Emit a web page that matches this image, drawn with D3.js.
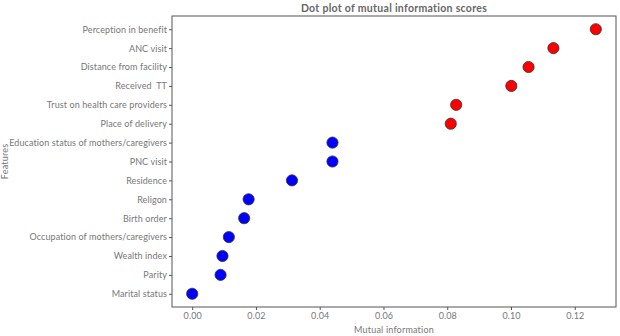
<!DOCTYPE html>
<html>
<head>
<meta charset="utf-8">
<script src="https://cdn.jsdelivr.net/npm/d3@7"></script>
<style>
  body { margin: 0; background: #fff; }
  text { font-family: Lato, sans-serif; white-space: pre; }
</style>
</head>
<body>
<svg id="chart" width="620" height="336"></svg>
<script>
var features = ["Perception in benefit", "ANC visit", "Distance from facility", "Received  TT",
  "Trust on health care providers", "Place of delivery", "Education status of mothers/caregivers",
  "PNC visit", "Residence", "Religon", "Birth order", "Occupation of mothers/caregivers",
  "Wealth index", "Parity", "Marital status"];
var scores = [0.1266, 0.1133, 0.1055, 0.1001, 0.0828, 0.0811, 0.0440, 0.0440, 0.0313,
  0.0177, 0.0163, 0.0115, 0.0095, 0.0089, 0.0000];
var groups = ["high", "high", "high", "high", "high", "high", "low", "low", "low",
  "low", "low", "low", "low", "low", "low"];
var xTicks = [0, 0.02, 0.04, 0.06, 0.08, 0.10, 0.12];

var data = features.map(function(f, i) { return {name: f, value: scores[i], group: groups[i]}; });

var margin = {top: 16, right: 4, bottom: 29, left: 172};
var width = 620 - margin.left - margin.right;
var height = 336 - margin.top - margin.bottom;

var svg = d3.select("#chart"),
    g = svg.append("g").attr("transform", "translate(" + margin.left + "," + margin.top + ")");

var maxV = d3.max(scores);
var pad = maxV * 0.05;
var x = d3.scaleLinear()
  .domain([0 - pad, maxV + pad])
  .range([0, width]);

var y = d3.scalePoint()
  .domain(features)
  .range([0, height])
  .padding(0.7);

var color = d3.scaleOrdinal().domain(["high", "low"]).range(["#ff0000", "#0000ff"]);

// frame
g.append("rect")
  .attr("width", width)
  .attr("height", height)
  .attr("fill", "none")
  .attr("stroke", "#555")
  .attr("stroke-width", 1);

var xAxis = g.append("g")
  .attr("transform", "translate(0," + height + ")")
  .call(d3.axisBottom(x).tickValues(xTicks).tickFormat(d3.format(".2f")).tickSize(3).tickPadding(3));

var yAxis = g.append("g")
  .call(d3.axisLeft(y).tickSize(3).tickPadding(2));

[xAxis, yAxis].forEach(function(a) {
  a.select(".domain").remove();
  a.selectAll(".tick line").attr("stroke", "#555");
  a.selectAll(".tick text")
    .attr("fill", "#777")
    .style("font-size", "9px")
    .style("font-family", "Lato, sans-serif")
    .style("letter-spacing", "0.1px");
});

// keep the longest label inside the left edge
var longest = d3.max(yAxis.selectAll(".tick text").nodes(), function(n) { return n.getComputedTextLength(); });
if (longest > 162) {
  yAxis.selectAll(".tick text").style("font-size", (9 * 162 / longest) + "px");
}

g.selectAll(".dot")
  .data(data)
  .enter().append("circle")
    .attr("class", "dot")
    .attr("cx", function(d) { return x(d.value); })
    .attr("cy", function(d) { return y(d.name); })
    .attr("r", 5.6)
    .attr("fill", function(d) { return color(d.group); })
    .attr("stroke", "#333")
    .attr("stroke-width", 0.8);

svg.append("text")
  .attr("x", margin.left + width / 2)
  .attr("y", 12)
  .attr("text-anchor", "middle")
  .attr("fill", "#666")
  .style("font-size", "10.5px")
  .style("font-weight", "bold")
  .style("letter-spacing", "0.3px")
  .text("Dot plot of mutual information scores");

svg.append("text")
  .attr("x", margin.left + width / 2)
  .attr("y", 333)
  .attr("text-anchor", "middle")
  .attr("fill", "#777")
  .style("font-size", "9px")
  .style("letter-spacing", "0.2px")
  .text("Mutual information");

svg.append("text")
  .attr("transform", "translate(8," + (margin.top + height / 2) + ") rotate(-90)")
  .attr("text-anchor", "middle")
  .attr("fill", "#777")
  .style("font-size", "9px")
  .style("letter-spacing", "0.2px")
  .text("Features");
</script>
</body>
</html>
